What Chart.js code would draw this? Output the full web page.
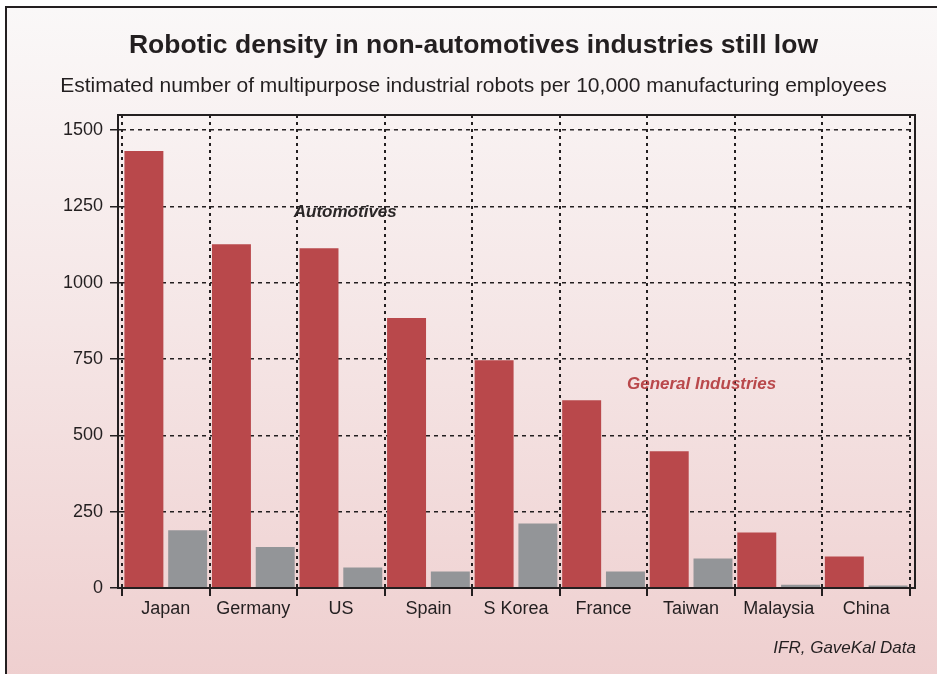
<!DOCTYPE html>
<html>
<head>
<meta charset="utf-8">
<script src="https://cdn.jsdelivr.net/npm/chart.js@4"></script>
<style>
  html, body { margin: 0; padding: 0; background: #fff; overflow: hidden; }
  #wrap { position: relative; width: 937px; height: 674px; overflow: hidden; }
  #frame {
    position: absolute; left: 5px; top: 6px; width: 960px; height: 700px;
    border: 2px solid #231f20;
    background: linear-gradient(to bottom, #faf8f8 0%, #f5e6e6 45%, #eecdcd 100%);
  }
  #chart { position: absolute; left: 0; top: 0; }
</style>
</head>
<body>
<div id="wrap">
  <div id="frame"></div>
  <canvas id="chart" width="937" height="674"></canvas>
</div>
<script>
const countries = ['Japan', 'Germany', 'US', 'Spain', 'S Korea', 'France', 'Taiwan', 'Malaysia', 'China'];
const automotives = [1431, 1126, 1113, 884, 746, 615, 448, 182, 103];
const generalIndustries = [189, 134, 67, 54, 211, 54, 97, 11, 8];
const yTicks = [0, 250, 500, 750, 1000, 1250, 1500];

const titleText = 'Robotic density in non-automotives industries still low';
const subtitleText = 'Estimated number of multipurpose industrial robots per 10,000 manufacturing employees';
const sourceText = 'IFR, GaveKal Data';

const textColor = '#231f20';
const redColor = '#b9484b';
const greyColor = '#939598';
const fontFamily = '"Liberation Sans", Arial, sans-serif';

// series labels written inside the plot (category index + offset, value)
const seriesLabels = [
  { text: 'Automotives', cat: 2, shift: 0.05, value: 1231, color: '#2a2627' },
  { text: 'General Industries', cat: 6, shift: 0.12, value: 667, color: redColor }
];

const framePlugin = {
  id: 'frame',
  afterDatasetsDraw(chart) {
    const { ctx, chartArea } = chart;
    ctx.save();
    ctx.strokeStyle = textColor;
    ctx.lineWidth = 2;
    ctx.strokeRect(chartArea.left - 4, chartArea.top, chartArea.width + 9, chartArea.bottom - chartArea.top);
    ctx.restore();
  },
  afterDraw(chart) {
    const { ctx, scales, chartArea } = chart;
    ctx.save();
    ctx.textAlign = 'center';
    ctx.textBaseline = 'middle';
    ctx.fillStyle = textColor;
    // heading, centred a little right of the page centre like the original
    const mid = chart.width / 2 + 5;
    ctx.font = 'bold 26.5px ' + fontFamily;
    ctx.fillText(titleText, mid, 46);
    ctx.font = '21px ' + fontFamily;
    ctx.fillText(subtitleText, mid, 86);

    ctx.font = 'italic bold 17px ' + fontFamily;
    seriesLabels.forEach(l => {
      const x = scales.x.getPixelForValue(l.cat) + l.shift * (scales.x.width / countries.length);
      const y = scales.y.getPixelForValue(l.value);
      ctx.fillStyle = l.color;
      ctx.fillText(l.text, x, y);
    });
    ctx.font = 'italic 17px ' + fontFamily;
    ctx.fillStyle = textColor;
    ctx.textAlign = 'right';
    ctx.fillText(sourceText, chartArea.right + 6, 648);
    ctx.restore();
  }
};

new Chart(document.getElementById('chart'), {
  type: 'bar',
  data: {
    labels: countries,
    datasets: [
      { label: 'Automotives', data: automotives, backgroundColor: redColor },
      { label: 'General Industries', data: generalIndustries, backgroundColor: greyColor }
    ]
  },
  options: {
    responsive: false,
    animation: false,
    layout: { padding: { left: 0, right: 27, top: 115, bottom: 56 } },
    datasets: { bar: { barPercentage: 0.89, categoryPercentage: 1.0 } },
    scales: {
      x: {
        offset: true,
        grid: {
          offset: true,
          color: '#231f20',
          lineWidth: 2,
          drawTicks: true,
          tickLength: 8,
          tickColor: '#231f20',
          tickWidth: 2,
          tickBorderDash: []
        },
        border: { display: false, dash: [3, 4] },
        ticks: {
          color: textColor,
          padding: 2,
          font: { family: fontFamily, size: 18 }
        },
        afterFit(scale) { scale.height = 30; }
      },
      y: {
        min: 0,
        max: 1549,
        afterBuildTicks(scale) { scale.ticks = yTicks.map(v => ({ value: v })); },
        grid: {
          color: '#231f20',
          lineWidth: 1.5,
          drawTicks: true,
          tickLength: 12,
          tickColor: '#231f20',
          tickWidth: 1.5,
          tickBorderDash: []
        },
        border: { display: false, dash: [4, 4] },
        ticks: {
          color: textColor,
          padding: 7,
          font: { family: fontFamily, size: 18 },
          callback: v => String(v)
        },
        afterFit(scale) { scale.width = 122; }
      }
    },
    plugins: {
      legend: { display: false },
      tooltip: { enabled: false },
      title: { display: false },
      subtitle: { display: false }
    }
  },
  plugins: [framePlugin]
});
</script>
</body>
</html>
